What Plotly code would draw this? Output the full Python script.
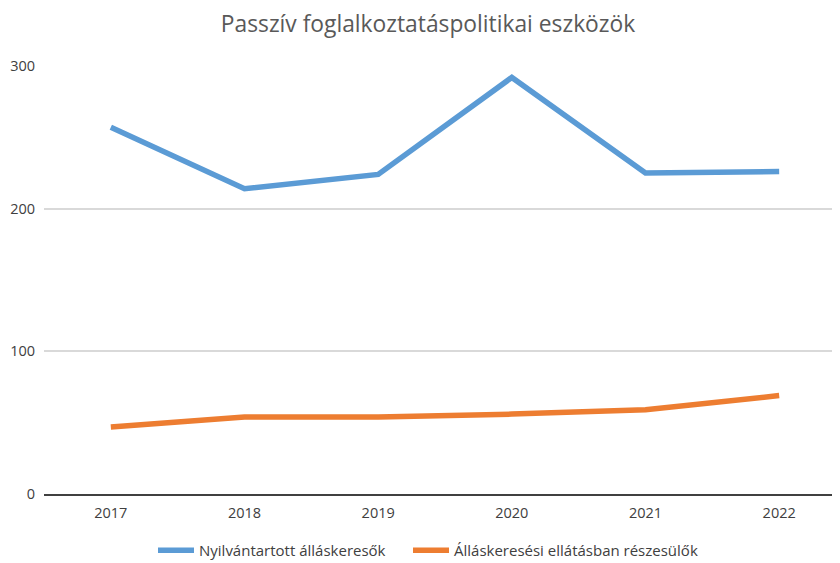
import plotly.graph_objects as go

years = ["2017", "2018", "2019", "2020", "2021", "2022"]
nyilvantartott = [257, 214, 224, 292, 225, 226]
ellatasban = [47, 54, 54, 56, 59, 69]
series_names = ["Nyilvántartott álláskeresők", "Álláskeresési ellátásban részesülők"]
y_ticks = [0, 100, 200, 300]

fig = go.Figure()
fig.add_trace(go.Scatter(x=years, y=nyilvantartott, mode="lines", name=series_names[0],
                         line=dict(color="#5B9BD5", width=5.5), cliponaxis=False,
                         legend="legend"))
fig.add_trace(go.Scatter(x=years, y=ellatasban, mode="lines", name=series_names[1],
                         line=dict(color="#ED7D31", width=5.5), cliponaxis=False,
                         legend="legend2"))

font_family = "Open Sans, Noto Sans, sans-serif"
leg_common = dict(orientation="h", xanchor="left", xref="container",
                  y=1 - 526 / 563, yref="container", yanchor="top",
                  font=dict(size=15, color="#404040"), itemwidth=36,
                  bgcolor="rgba(0,0,0,0)")
fig.update_layout(
    width=840, height=563,
    paper_bgcolor="white", plot_bgcolor="white",
    margin=dict(l=36, r=2, t=58, b=77),
    title=dict(text="Passzív foglalkoztatáspolitikai eszközök", x=0.5, xref="container",
               y=0.972, yref="container", yanchor="middle",
               font=dict(family=font_family, size=22.8, color="#595959")),
    font=dict(family=font_family, size=14.5, color="#404040"),
    showlegend=True,
    legend=dict(x=145 / 840, **leg_common),
    legend2=dict(x=400 / 840, **leg_common),
    xaxis=dict(type="category", range=[-0.5, 5.5], showgrid=False,
               showline=True, linecolor="#404040", linewidth=2,
               ticks="outside", ticklen=5, tickcolor="rgba(0,0,0,0)",
               tickfont=dict(size=14.5, color="#404040")),
    yaxis=dict(range=[0, 300], tickvals=y_ticks, showgrid=True, gridcolor="#D9D9D9",
               gridwidth=1.5, zeroline=False, showline=False,
               ticks="outside", ticklen=5, tickcolor="rgba(0,0,0,0)",
               tickfont=dict(size=14.5, color="#404040")),
)

fig.write_html("out.html")
